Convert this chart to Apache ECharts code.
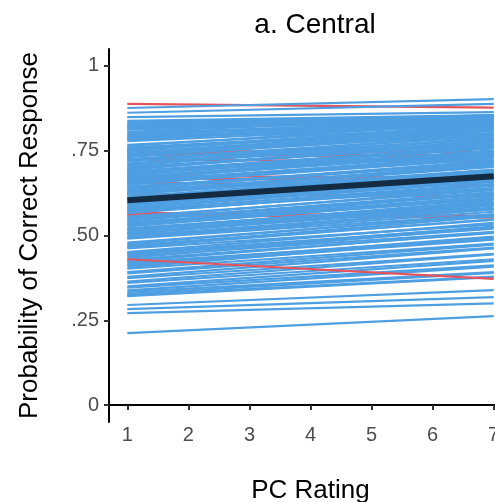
<!DOCTYPE html>
<html>
<head>
<meta charset="utf-8">
<script src="https://cdn.jsdelivr.net/npm/echarts@6/dist/echarts.min.js"></script>
<style>html,body{margin:0;padding:0;background:#fff}#c{width:495px;height:502px}</style>
</head>
<body>
<div id="c"></div>
<script>
// PC rating range endpoints
var xEnds = [1, 7];
var xTicks = [1, 2, 3, 4, 5, 6, 7];
var yTicks = [0, 0.25, 0.5, 0.75, 1];
var yTickLabels = ['0', '.25', '.50', '.75', '1'];

// Individual participant lines with negative slope (red): value at PC=1 and PC=7
var redStart = [0.888, 0.750, 0.745, 0.738, 0.724, 0.676, 0.668, 0.655, 0.622, 0.567, 0.560];
var redEnd   = [0.877, 0.746, 0.735, 0.733, 0.718, 0.670, 0.664, 0.648, 0.616, 0.558, 0.553];
// Red line drawn over the blue ones
var redTopStart = [0.430];
var redTopEnd   = [0.372];

// Individual participant lines with positive slope (blue): value at PC=1
var blueStart = [
  0.876, 0.862, 0.849, 0.838, 0.833, 0.830, 0.824, 0.821, 0.815, 0.812,
  0.806, 0.803, 0.797, 0.794, 0.790, 0.784, 0.781, 0.778, 0.767, 0.764,
  0.759, 0.756, 0.751, 0.746, 0.743, 0.739, 0.736, 0.731, 0.725, 0.721,
  0.718, 0.709, 0.706, 0.702, 0.697, 0.694, 0.690, 0.686, 0.681, 0.678,
  0.673, 0.670, 0.665, 0.661, 0.657, 0.652, 0.649, 0.644, 0.641, 0.636,
  0.632, 0.628, 0.623, 0.620, 0.615, 0.611, 0.607, 0.600, 0.596, 0.592,
  0.588, 0.583, 0.579, 0.575, 0.571, 0.566, 0.556, 0.552, 0.548, 0.544,
  0.539, 0.535, 0.531, 0.527, 0.521, 0.517, 0.513, 0.508, 0.504, 0.500,
  0.495, 0.491, 0.479, 0.475, 0.471, 0.466, 0.462, 0.451, 0.447, 0.442,
  0.438, 0.434, 0.429, 0.424, 0.420, 0.415, 0.411, 0.406, 0.402, 0.392,
  0.388, 0.378, 0.374, 0.364, 0.360, 0.350, 0.346, 0.338, 0.334, 0.328,
  0.324, 0.321, 0.295, 0.283, 0.271, 0.212,
  0.828, 0.818, 0.800, 0.787, 0.753, 0.733, 0.712, 0.699, 0.683, 0.667,
  0.654, 0.638, 0.625, 0.609, 0.594, 0.581, 0.568, 0.546, 0.533, 0.519,
  0.506, 0.493, 0.468, 0.444];
// Same participants: value at PC=7
var blueEnd = [
  0.902, 0.888, 0.864, 0.855, 0.853, 0.844, 0.855, 0.846, 0.850, 0.840,
  0.848, 0.836, 0.834, 0.846, 0.830, 0.829, 0.841, 0.826, 0.822, 0.834,
  0.817, 0.818, 0.826, 0.812, 0.803, 0.810, 0.798, 0.809, 0.793, 0.785,
  0.797, 0.779, 0.788, 0.768, 0.771, 0.782, 0.761, 0.765, 0.749, 0.761,
  0.749, 0.740, 0.751, 0.733, 0.737, 0.726, 0.739, 0.713, 0.719, 0.721,
  0.705, 0.709, 0.693, 0.712, 0.691, 0.694, 0.678, 0.679, 0.684, 0.664,
  0.668, 0.658, 0.670, 0.652, 0.640, 0.650, 0.634, 0.639, 0.621, 0.625,
  0.609, 0.624, 0.607, 0.610, 0.593, 0.603, 0.592, 0.582, 0.594, 0.577,
  0.578, 0.562, 0.559, 0.563, 0.546, 0.548, 0.532, 0.537, 0.525, 0.526,
  0.511, 0.524, 0.508, 0.509, 0.491, 0.497, 0.488, 0.494, 0.476, 0.473,
  0.464, 0.462, 0.446, 0.444, 0.430, 0.425, 0.412, 0.408, 0.392, 0.390,
  0.379, 0.377, 0.339, 0.318, 0.300, 0.262,
  0.849, 0.843, 0.839, 0.835, 0.815, 0.800, 0.788, 0.776, 0.757, 0.744,
  0.731, 0.714, 0.702, 0.688, 0.671, 0.660, 0.646, 0.628, 0.616, 0.598,
  0.588, 0.570, 0.556, 0.520];

// Overall (fixed effect) line
var meanStart = 0.604;
var meanEnd = 0.675;

var series = [];
function addLine(s, e, color, width) {
  series.push({
    type: 'line',
    data: [[xEnds[0], s], [xEnds[1], e]],
    showSymbol: false, symbol: 'none', silent: true,
    lineStyle: { color: color, width: width },
    animation: false
  });
}
for (var i = 0; i < redStart.length; i++) addLine(redStart[i], redEnd[i], '#E5545A', 2.2);
for (var j = 0; j < blueStart.length; j++) addLine(blueStart[j], blueEnd[j], '#4E9FE2', 2.2);
for (var k = 0; k < redTopStart.length; k++) addLine(redTopStart[k], redTopEnd[k], '#E5545A', 2.2);
addLine(meanStart, meanEnd, '#132B43', 6);

var chart = echarts.init(document.getElementById('c'), null, { renderer: 'canvas' });
chart.setOption({
  animation: false,
  backgroundColor: '#ffffff',
  title: {
    text: 'a. Central', left: 310, top: 6, textAlign: 'center',
    textStyle: { fontFamily: 'Liberation Sans', fontSize: 28, fontWeight: 'normal', color: '#000' }
  },
  grid: { left: 109, top: 49, width: 403, height: 373, outerBoundsMode: 'none', containLabel: false },
  xAxis: {
    type: 'value', min: 0.7, max: 7.3,
    name: 'PC Rating', nameLocation: 'middle', nameGap: 56,
    nameTextStyle: { fontFamily: 'Liberation Sans', fontSize: 26, color: '#000' },
    axisLine: { show: true, lineStyle: { color: '#000', width: 2 } },
    axisTick: { show: true, customValues: xTicks, length: 5, lineStyle: { color: '#333', width: 2 } },
    axisLabel: { customValues: xTicks, margin: 3, fontFamily: 'Liberation Sans', fontSize: 20, color: '#4D4D4D' },
    splitLine: { show: false }
  },
  yAxis: {
    type: 'value', min: -0.05, max: 1.05,
    name: 'Probability of Correct Response', nameLocation: 'middle', nameGap: 66, nameRotate: 90,
    nameTextStyle: { fontFamily: 'Liberation Sans', fontSize: 26, color: '#000' },
    axisLine: { show: true, lineStyle: { color: '#000', width: 2 } },
    axisTick: { show: true, customValues: yTicks, length: 5, lineStyle: { color: '#333', width: 2 } },
    axisLabel: {
      customValues: yTicks, margin: 10, fontFamily: 'Liberation Sans', fontSize: 20, color: '#4D4D4D',
      formatter: function (v) { var k = yTicks.indexOf(v); return k >= 0 ? yTickLabels[k] : ''; }
    },
    splitLine: { show: false }
  },
  series: series
});
</script>
</body>
</html>
